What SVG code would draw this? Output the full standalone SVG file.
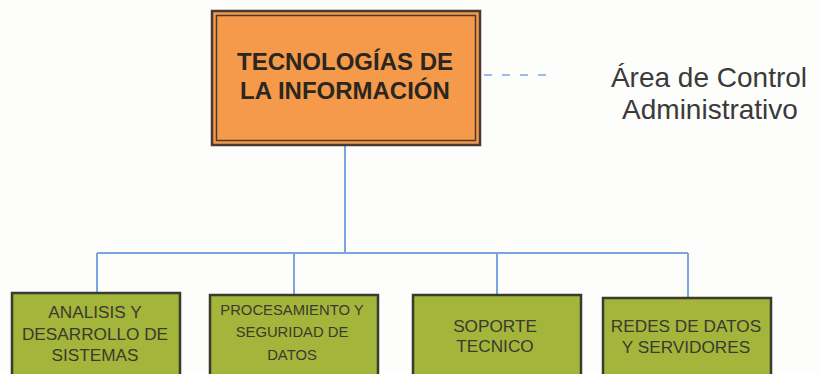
<svg xmlns="http://www.w3.org/2000/svg" width="819" height="374" viewBox="0 0 819 374">
<style>
.bg{fill:#fdfdfb}
.conn{stroke:#7aa6e0;stroke-width:2;fill:none}
.dash{stroke:#7aa6e0;stroke-width:1.5;stroke-dasharray:8,10;fill:none}
.sub{fill:#a3b53a;stroke:#3a3a30;stroke-width:2.5}
.main{fill:#f5994a;stroke:#4a3a30;stroke-width:2.5}
.mt{font-family:"Liberation Sans",Arial,sans-serif;font-weight:bold;font-size:24px;fill:#2a2620;text-anchor:middle}
.st{font-family:"Liberation Sans",Arial,sans-serif;font-size:17.2px;fill:#3a3a30;text-anchor:middle}
.st2{font-family:"Liberation Sans",Arial,sans-serif;font-size:14.8px;fill:#3a3a30;text-anchor:middle}
.lt{font-family:"Liberation Sans",Arial,sans-serif;font-size:28px;fill:#3a3a3a;text-anchor:middle}
</style>
<rect class="bg" x="0" y="0" width="819" height="374"/>
<g id="connectors">
<path class="conn" d="M345 145 V253"/>
<path class="conn" d="M97 253 H688"/>
<path class="conn" d="M97 253 V292 M294 253 V294 M497 253 V294 M688 253 V297"/>
<path class="dash" d="M484 75 H556"/>
</g>
<g id="main">
<rect class="main" x="212" y="11" width="268" height="134"/>
<rect x="216.5" y="15.5" width="259" height="125" fill="none" stroke="#4a3a30" stroke-width="1.5"/>
<text class="mt" x="345" y="70">TECNOLOGÍAS DE</text>
<text class="mt" x="345" y="99">LA INFORMACIÓN</text>
</g>
<g id="label">
<text class="lt" x="709" y="87">Área de Control</text>
<text class="lt" x="710" y="119">Administrativo</text>
</g>
<g id="n1">
<rect class="sub" x="12" y="293" width="168" height="90"/>
<text class="st" x="95" y="318">ANALISIS Y</text>
<text class="st" x="95" y="340">DESARROLLO DE</text>
<text class="st" x="95" y="361">SISTEMAS</text>
</g>
<g id="n2">
<rect class="sub" x="210" y="295" width="168" height="90"/>
<text class="st2" x="292" y="315">PROCESAMIENTO Y</text>
<text class="st2" x="292" y="337">SEGURIDAD DE</text>
<text class="st2" x="292" y="360">DATOS</text>
</g>
<g id="n3">
<rect class="sub" x="413" y="295" width="168" height="90"/>
<text class="st" x="495" y="332">SOPORTE</text>
<text class="st" x="495" y="352">TECNICO</text>
</g>
<g id="n4">
<rect class="sub" x="603" y="298" width="168" height="90"/>
<text class="st" x="686" y="332">REDES DE DATOS</text>
<text class="st" x="686" y="353">Y SERVIDORES</text>
</g>
</svg>
